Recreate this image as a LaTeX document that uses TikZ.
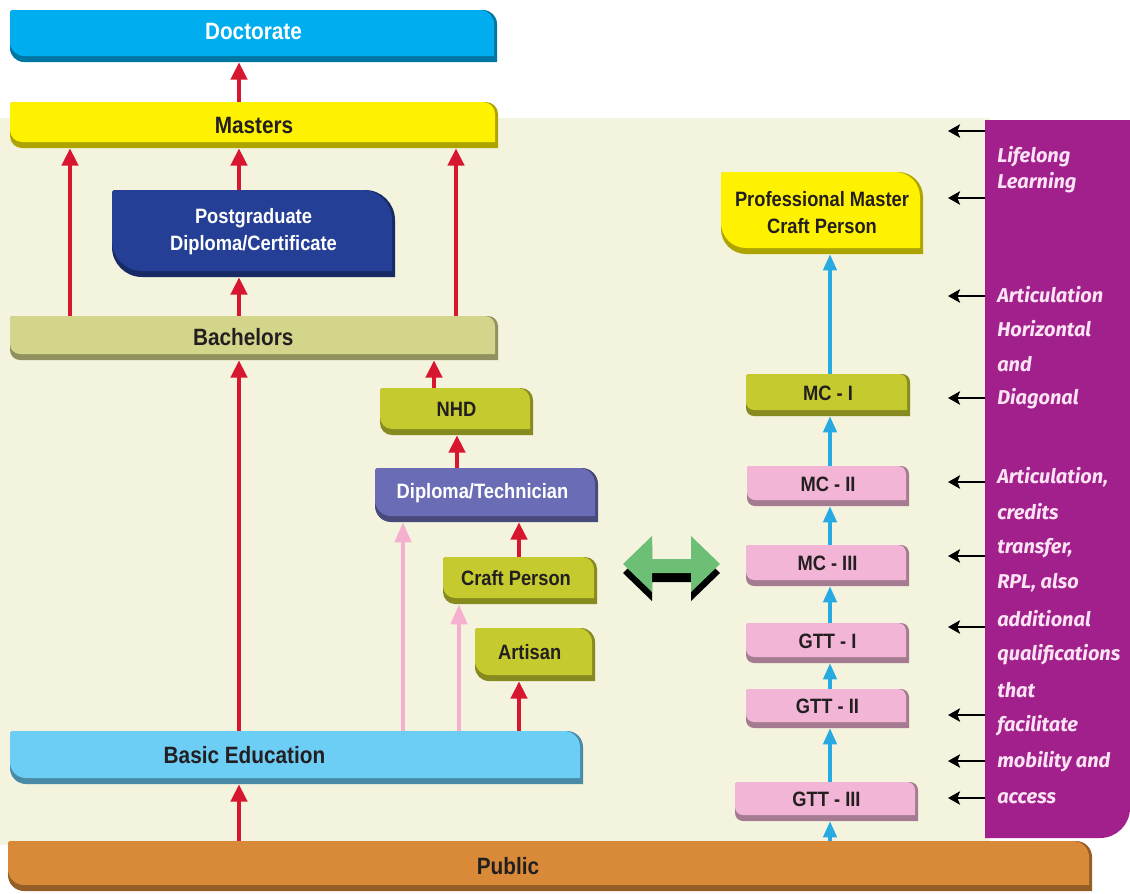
\documentclass[tikz,border=0pt]{standalone}
\usepackage{fontspec}
\usetikzlibrary{arrows.meta,calc}
\newfontfamily\lblfont{Liberation Sans}[FakeStretch=0.88]
\newfontfamily\sidefont{Fira Sans}
\definecolor{doccol}{HTML}{00ADEE}
\definecolor{mastcol}{HTML}{FFF200}
\definecolor{pgdcol}{HTML}{243F95}
\definecolor{bachcol}{HTML}{D3D58A}
\definecolor{olivecol}{HTML}{C5CB2E}
\definecolor{diplcol}{HTML}{6A6DB5}
\definecolor{basiccol}{HTML}{6CCDF5}
\definecolor{pinkcol}{HTML}{F3B5D5}
\definecolor{pubcol}{HTML}{D98A38}
\definecolor{creamcol}{HTML}{F4F4DE}
\definecolor{purpcol}{HTML}{A1208B}
\definecolor{sidetext}{HTML}{FBE3F4}
\definecolor{arrred}{HTML}{D7172F}
\definecolor{arrpink}{HTML}{F4B0CE}
\definecolor{arrblue}{HTML}{27AAE1}
\definecolor{greencol}{HTML}{6DBF76}
\definecolor{textdark}{HTML}{231F20}
% name, x1, y1, x2, y2 (pixels, y downwards), colour, radius, text options, text
\newcommand\lbox[9]{%
  \fill[#6!68!black] ({#2+2},-#3) -- ({#4-#7},-#3) arc[start angle=90,end angle=0,radius=#7]
    -- (#4,-#5) -- ({#2+#7},-#5) arc[start angle=270,end angle=180,radius=#7] -- (#2,{-#3-2}) -- cycle;
  \fill[#6] ({#2+2},-#3) -- ({#4-3-#7},-#3) arc[start angle=90,end angle=0,radius=#7]
    -- ({#4-3},{-#5+6}) -- ({#2+#7},{-#5+6}) arc[start angle=270,end angle=180,radius=#7] -- (#2,{-#3-2}) -- cycle;
  \node[boxnode, minimum width={(#4-#2)*0.75pt}, minimum height={(#5-#3)*0.75pt}]
    (#1) at ({(#2+#4)/2},{-(#3+#5)/2}) {};
  \node[boxtext, #8] (#1-text) at (#1.center) {#9};
}
\begin{document}
\begin{tikzpicture}[x=0.75pt,y=0.75pt,
  boxnode/.style={inner sep=0},
  boxtext/.style={inner sep=0, align=center, text=textdark, yshift=1.5pt,
    font=\lblfont\bfseries\fontsize{15.6}{20}\selectfont},
  bigtext/.style={font=\lblfont\bfseries\fontsize{17.7}{21}\selectfont},
  lighttext/.style={text=white},
  redarr/.style={draw=arrred, line width=3.5pt, -{Triangle[length=13pt,width=12pt]}},
  pinkarr/.style={draw=arrpink, line width=3.3pt, -{Triangle[length=15pt,width=12pt]}},
  bluearr/.style={draw=arrblue, line width=2.4pt, -{Triangle[length=12pt,width=10pt]}},
  blackarr/.style={draw=black, line width=2.2pt, -{Stealth[length=9pt,width=10pt,inset=2pt]}},
  sidelbl/.style={anchor=west, inner sep=0, text=sidetext,
    font=\sidefont\bfseries\itshape\fontsize{15}{18}\selectfont}
]
\useasboundingbox (0,0) rectangle (1130,-893);
% background panels
\fill[creamcol] (0,-118) rectangle (990,-845);
\fill[purpcol] (985,-120) -- (1130,-120) -- (1130,-808) arc[start angle=0,end angle=-90,radius=30]
  -- (985,-838) -- cycle;
\node[inner sep=0, minimum width=108.75pt, minimum height=538.5pt] (panel) at (1057.5,-479) {};

% boxes
\lbox{doc}{10}{10}{497}{62}{doccol}{14}{bigtext,lighttext,yshift=2pt}{Doctorate}
\lbox{mast}{10}{102}{498}{148}{mastcol}{12}{bigtext,yshift=-1.5pt}{Masters}
\lbox{pgd}{112}{190}{395}{277}{pgdcol}{30}{lighttext}{Postgraduate\\Diploma/Certificate}
\lbox{bach}{10}{316}{498}{360}{bachcol}{10}{bigtext,xshift=-8pt,yshift=-1pt}{Bachelors}
\lbox{nhd}{380}{388}{533}{435}{olivecol}{12}{}{NHD}
\lbox{dipl}{375}{468}{598}{522}{diplcol}{16}{lighttext,xshift=-3pt}{Diploma/Technician}
\lbox{craft}{443}{557}{597}{604}{olivecol}{12}{xshift=-3pt}{Craft Person}
\lbox{artisan}{475}{628}{595}{681}{olivecol}{14}{xshift=-4pt}{Artisan}
\lbox{basic}{10}{731}{583}{784}{basiccol}{16}{bigtext,xshift=-39pt}{Basic Education}
\lbox{public}{8}{841}{1092}{891}{pubcol}{16}{bigtext,xshift=-31.5pt,yshift=-1.5pt}{Public}
\lbox{pmcp}{721}{172}{923}{254}{mastcol}{25}{yshift=-1pt}{Professional Master\\Craft Person}
\lbox{mcone}{746}{374}{910}{416}{olivecol}{8}{}{MC - I}
\lbox{mctwo}{747}{466}{909}{506}{pinkcol}{8}{}{MC - II}
\lbox{mcthree}{746}{545}{909}{586}{pinkcol}{8}{}{MC - III}
\lbox{gttone}{746}{623}{909}{663}{pinkcol}{8}{}{GTT - I}
\lbox{gtttwo}{746}{689}{909}{728}{pinkcol}{8}{}{GTT - II}
\lbox{gttthree}{735}{782}{918}{821}{pinkcol}{8}{}{GTT - III}

% columns for connectors
\coordinate (cA) at (239,0);
\coordinate (cB) at (70,0);
\coordinate (cC) at (456,0);
\coordinate (cD) at (434,0);
\coordinate (cE) at (457,0);
\coordinate (cF) at (519,0);
\coordinate (cG) at (403,0);
\coordinate (cH) at (459,0);
\coordinate (cI) at (830,0);

% red arrows
\draw[redarr] (mast.north -| cA) -- (doc.south -| cA);
\draw[redarr] (bach.north -| cB) -- (mast.south -| cB);
\draw[redarr] (bach.north -| cC) -- (mast.south -| cC);
\draw[redarr] (pgd.north -| cA) -- (mast.south -| cA);
\draw[redarr] (bach.north -| cA) -- (pgd.south -| cA);
\draw[redarr] (basic.north -| cA) -- (bach.south -| cA);
\draw[redarr] (public.north -| cA) -- (basic.south -| cA);
\draw[redarr] (nhd.north -| cD) -- (bach.south -| cD);
\draw[redarr] (dipl.north -| cE) -- (nhd.south -| cE);
\draw[redarr] (craft.north -| cF) -- (dipl.south -| cF);
\draw[redarr] (basic.north -| cF) -- (artisan.south -| cF);
% pink arrows
\draw[pinkarr] (basic.north -| cG) -- (dipl.south -| cG);
\draw[pinkarr] (basic.north -| cH) -- (craft.south -| cH);
% blue arrows
\draw[bluearr] (public.north -| cI) -- (gttthree.south -| cI);
\draw[bluearr] (gttthree.north -| cI) -- (gtttwo.south -| cI);
\draw[bluearr] (gtttwo.north -| cI) -- (gttone.south -| cI);
\draw[bluearr] (gttone.north -| cI) -- (mcthree.south -| cI);
\draw[bluearr] (mcthree.north -| cI) -- (mctwo.south -| cI);
\draw[bluearr] (mctwo.north -| cI) -- (mcone.south -| cI);
\draw[bluearr] (mcone.north -| cI) -- (pmcp.south -| cI);

% double arrow between the two tracks
\fill[black] (623,-573) -- (652,-545) -- (652,-568) -- (691,-568) -- (691,-545) -- (720,-573)
  -- (691,-601) -- (691,-582) -- (652,-582) -- (652,-601) -- cycle;
\fill[greencol] (623,-564) -- (652,-536) -- (652,-559) -- (691,-559) -- (691,-536) -- (720,-564)
  -- (691,-592) -- (691,-573) -- (652,-573) -- (652,-592) -- cycle;

% black arrows from the side panel
\foreach \n/\yy in {1/131,2/198,3/296,4/398,5/482,6/556,7/627,8/715,9/761,10/798}{
  \coordinate (tip\n) at (948,-\yy);
  \draw[blackarr] (tip\n -| panel.west) -- (tip\n);
}

% side panel text
\node[sidelbl] (s1) at (997,-157) {Lifelong};
\node[sidelbl] (s2) at (997,-183) {Learning};
\node[sidelbl] (s3) at (997,-295) {Articulation};
\node[sidelbl] (s4) at (997,-329) {Horizontal};
\node[sidelbl] (s5) at (997,-364) {and};
\node[sidelbl] (s6) at (997,-399) {Diagonal};
\node[sidelbl] (s7) at (997,-477) {Articulation,};
\node[sidelbl] (s8) at (997,-512) {credits};
\node[sidelbl] (s9) at (997,-548) {transfer,};
\node[sidelbl] (s10) at (997,-583) {RPL, also};
\node[sidelbl] (s11) at (997,-619) {additional};
\node[sidelbl] (s12) at (997,-655) {qualifications};
\node[sidelbl] (s13) at (997,-690) {that};
\node[sidelbl] (s14) at (997,-726) {facilitate};
\node[sidelbl] (s15) at (997,-762) {mobility and};
\node[sidelbl] (s16) at (997,-798) {access};
\end{tikzpicture}
\end{document}
